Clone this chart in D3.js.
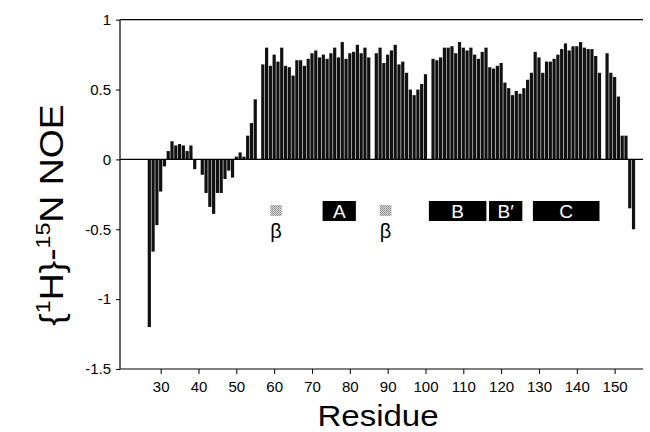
<!DOCTYPE html>
<html>
<head>
<meta charset="utf-8">
<script src="https://cdn.jsdelivr.net/npm/d3@7"></script>
<style>
  body { margin: 0; background: #fff; }
  svg text { font-family: "Liberation Sans", Arial, sans-serif; fill: #000; }
</style>
</head>
<body>
<div id="chart"></div>
<script>
// residue numbers (gaps at 40, 56, 86, 101, 147 are unassigned residues)
var residues = [27, 28, 29, 30, 31, 32, 33, 34, 35, 36, 37, 38, 39,
    41, 42, 43, 44, 45, 46, 47, 48, 49, 50, 51, 52, 53, 54, 55,
    57, 58, 59, 60, 61, 62, 63, 64, 65, 66, 67, 68, 69, 70, 71, 72, 73, 74, 75, 76, 77, 78, 79, 80, 81, 82, 83, 84, 85,
    87, 88, 89, 90, 91, 92, 93, 94, 95, 96, 97, 98, 99, 100,
    102, 103, 104, 105, 106, 107, 108, 109, 110, 111, 112, 113, 114, 115, 116, 117, 118, 119, 120,
    121, 122, 123, 124, 125, 126, 127, 128, 129, 130, 131, 132, 133, 134, 135, 136, 137, 138, 139, 140,
    141, 142, 143, 144, 145, 146,
    148, 149, 150, 151, 152, 153, 154, 155];
var noe = [-1.20, -0.66, -0.47, -0.23, -0.05, 0.06, 0.13, 0.10, 0.11, 0.10, 0.06, 0.10, -0.07,
    -0.11, -0.24, -0.34, -0.39, -0.24, -0.24, -0.14, -0.08, -0.13, 0.02, 0.05, 0.02, 0.17, 0.26, 0.43,
    0.68, 0.80, 0.67, 0.75, 0.70, 0.80, 0.67, 0.66, 0.60, 0.71, 0.71, 0.67, 0.72, 0.76, 0.78, 0.73, 0.75, 0.72, 0.76, 0.80, 0.73, 0.84, 0.72, 0.76, 0.77, 0.82, 0.76, 0.80, 0.73,
    0.76, 0.80, 0.69, 0.75, 0.78, 0.82, 0.68, 0.70, 0.62, 0.50, 0.46, 0.50, 0.54, 0.61,
    0.72, 0.71, 0.73, 0.80, 0.80, 0.81, 0.76, 0.84, 0.80, 0.78, 0.80, 0.75, 0.72, 0.77, 0.80, 0.66, 0.65, 0.67, 0.69,
    0.55, 0.51, 0.46, 0.49, 0.47, 0.51, 0.57, 0.62, 0.77, 0.73, 0.62, 0.70, 0.70, 0.72, 0.75, 0.79, 0.83, 0.78, 0.81, 0.81,
    0.84, 0.80, 0.79, 0.79, 0.74, 0.62,
    0.76, 0.62, 0.59, 0.45, 0.17, 0.17, -0.35, -0.50];

var xTicks = [30, 40, 50, 60, 70, 80, 90, 100, 110, 120, 130, 140, 150];
var yTicks = [1, 0.5, 0, -0.5, -1, -1.5];

// secondary structure elements: [start, end] in residue units
var helixNames = ["A", "B", "B\u2032", "C"];
var helixSpans = [[72.8, 81.6], [100.9, 116.1], [116.8, 125.6], [128.4, 146]];
var strandSpans = [[59, 62], [87.9, 91]];

var width = 650, height = 432;
var plotLeft = 120, plotRight = 643, plotTop = 19.7, plotBottom = 369;

var svg = d3.select("#chart").append("svg")
    .attr("width", width)
    .attr("height", height);

var x = d3.scaleLinear().domain([19.25, 157.5]).range([plotLeft, plotRight]);
var y = d3.scaleLinear().domain([-1.5, 1]).range([plotBottom, plotTop]);

var barW = 3.2;

// bars
svg.append("g").selectAll("rect")
    .data(residues)
    .enter()
    .append("rect")
    .attr("x", function(d) { return x(d) - barW / 2; })
    .attr("y", function(d, i) { return y(Math.max(0, noe[i])); })
    .attr("width", barW)
    .attr("height", function(d, i) { return Math.abs(y(noe[i]) - y(0)); })
    .attr("fill", "#111");

// zero line and top line (no right border)
svg.append("line")
    .attr("x1", plotLeft).attr("x2", plotRight)
    .attr("y1", y(0)).attr("y2", y(0))
    .attr("stroke", "#000").attr("stroke-width", 1.2);
svg.append("line")
    .attr("x1", plotLeft).attr("x2", plotRight)
    .attr("y1", plotTop).attr("y2", plotTop)
    .attr("stroke", "#000").attr("stroke-width", 1.2);

// axes
var xAxis = d3.axisBottom(x).tickValues(xTicks).tickSize(5).tickPadding(7)
    .tickFormat(d3.format("d"));
var gx = svg.append("g").attr("transform", "translate(0," + plotBottom + ")").call(xAxis);
gx.select(".domain").attr("d", "M" + plotLeft + ",0H" + plotRight).attr("stroke-width", 1.2);
gx.selectAll("text").attr("font-size", 15).style("font-family", "Liberation Sans, Arial, sans-serif");

var yAxis = d3.axisLeft(y).tickValues(yTicks).tickSize(4).tickPadding(5)
    .tickFormat(function(d) { return String(d); });
var gy = svg.append("g").attr("transform", "translate(" + plotLeft + ",0)").call(yAxis);
gy.select(".domain").attr("d", "M0," + plotTop + "V" + plotBottom).attr("stroke-width", 1.2);
gy.selectAll("text").attr("font-size", 15).style("font-family", "Liberation Sans, Arial, sans-serif");

// secondary structure
var boxTop = 201, boxH = 20;
var defs = svg.append("defs");
var pat = defs.append("pattern").attr("id", "stip")
    .attr("width", 2).attr("height", 2).attr("patternUnits", "userSpaceOnUse");
pat.append("rect").attr("width", 2).attr("height", 2).attr("fill", "#d8d8d8");
pat.append("rect").attr("width", 1).attr("height", 1).attr("fill", "#8a8a8a");
pat.append("rect").attr("x", 1).attr("y", 1).attr("width", 1).attr("height", 1).attr("fill", "#9a9a9a");

svg.append("g").selectAll("rect")
    .data(strandSpans)
    .enter()
    .append("rect")
    .attr("x", function(d) { return x(d[0]); })
    .attr("y", 205)
    .attr("width", function(d) { return x(d[1]) - x(d[0]); })
    .attr("height", 11)
    .attr("fill", "url(#stip)");

svg.append("g").selectAll("text")
    .data(strandSpans)
    .enter()
    .append("text")
    .attr("x", function(d) { return (x(d[0]) + x(d[1])) / 2; })
    .attr("y", 238)
    .attr("text-anchor", "middle")
    .attr("font-size", 20)
    .text("\u03b2");

var helix = svg.append("g").selectAll("g")
    .data(helixSpans)
    .enter()
    .append("g");
helix.append("rect")
    .attr("x", function(d) { return x(d[0]); })
    .attr("y", boxTop)
    .attr("width", function(d) { return x(d[1]) - x(d[0]); })
    .attr("height", boxH)
    .attr("fill", "#000");
helix.append("text")
    .attr("x", function(d) { return (x(d[0]) + x(d[1])) / 2; })
    .attr("y", boxTop + 17)
    .attr("text-anchor", "middle")
    .attr("font-size", 19)
    .style("fill", "#fff")
    .text(function(d, i) { return helixNames[i]; });

// axis titles
svg.append("g")
    .attr("transform", "translate(378,426) scale(1.1,1)")
    .append("text")
    .attr("text-anchor", "middle")
    .attr("font-size", 30)
    .text("Residue");

var yt = svg.append("g")
    .attr("transform", "translate(63,215) rotate(-90) scale(1.1,1)")
    .append("text")
    .attr("text-anchor", "middle")
    .attr("font-size", 34);
yt.append("tspan").text("{");
yt.append("tspan").attr("dy", -13).attr("font-size", 21).text("1");
yt.append("tspan").attr("dy", 13).text("H}-");
yt.append("tspan").attr("dy", -13).attr("font-size", 21).text("15");
yt.append("tspan").attr("dy", 13).text("N NOE");
</script>
</body>
</html>
